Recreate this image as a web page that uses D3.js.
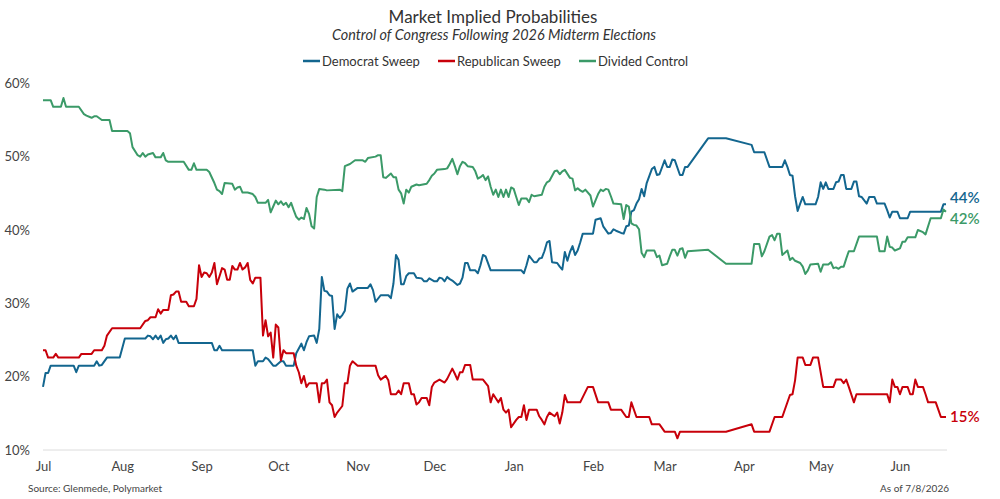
<!DOCTYPE html>
<html>
<head>
<meta charset="utf-8">
<script src="https://cdn.jsdelivr.net/npm/d3@7"></script>
<style>
  body { margin: 0; background: #fff; }
  text { font-family: Lato, "Open Sans", sans-serif; }
</style>
</head>
<body>
<svg id="chart"></svg>
<script>
var w = 1000;
var h = 499;

// month ticks + y ticks
var yTicks = [10, 20, 30, 40, 50, 60];
var seriesNames = ["Democrat Sweep", "Republican Sweep", "Divided Control"];
var endLabels = ["44%", "15%", "42%"];

var demSweep = [
  ["2025-07-01",18.6],["2025-07-02",20.5],["2025-07-03",20.5],["2025-07-04",21.5],["2025-07-13",21.5],["2025-07-14",20.6],
  ["2025-07-15",21.5],["2025-07-21",21.5],["2025-07-22",22.1],["2025-07-23",21.5],["2025-07-24",21.6],["2025-07-26",22.6],
  ["2025-07-31",22.6],["2025-08-02",25.2],["2025-08-10",25.2],["2025-08-11",25.6],["2025-08-12",25.5],["2025-08-13",25.1],
  ["2025-08-14",25.6],["2025-08-15",25.1],["2025-08-16",25.6],["2025-08-17",24.6],["2025-08-18",25.1],["2025-08-19",25.2],
  ["2025-08-20",25.6],["2025-08-21",25.1],["2025-08-22",25.6],["2025-08-23",24.6],["2025-09-05",24.6],["2025-09-06",23.6],
  ["2025-09-07",23.6],["2025-09-08",24.2],["2025-09-09",23.6],["2025-09-21",23.6],["2025-09-22",21.5],["2025-09-23",22.1],
  ["2025-09-25",22.1],["2025-09-26",22.6],["2025-09-27",22.4],["2025-09-29",21.5],["2025-09-30",21.5],["2025-10-02",22.1],
  ["2025-10-03",22.1],["2025-10-04",21.5],["2025-10-07",21.5],["2025-10-08",23.2],["2025-10-10",24.5],["2025-10-11",23.6],
  ["2025-10-12",24.7],["2025-10-13",25.5],["2025-10-15",25.6],["2025-10-16",24.6],["2025-10-17",26.5],["2025-10-18",33.6],
  ["2025-10-19",31.7],["2025-10-20",31.6],["2025-10-21",31.1],["2025-10-22",31.0],["2025-10-23",26.5],["2025-10-24",28.5],
  ["2025-10-25",28.0],["2025-10-26",28.4],["2025-10-27",29.0],["2025-10-28",32.0],["2025-10-29",32.7],["2025-10-30",31.6],
  ["2025-11-01",32.1],["2025-11-05",32.1],["2025-11-06",32.6],["2025-11-07",31.8],["2025-11-08",30.2],["2025-11-10",31.1],
  ["2025-11-13",31.1],["2025-11-14",30.7],["2025-11-15",32.7],["2025-11-16",36.6],["2025-11-17",35.9],["2025-11-18",32.6],
  ["2025-11-19",32.6],["2025-11-20",33.7],["2025-11-21",34.1],["2025-11-23",34.1],["2025-11-24",33.5],["2025-11-26",33.4],
  ["2025-11-27",33.0],["2025-11-28",33.0],["2025-11-29",33.4],["2025-12-01",33.0],["2025-12-02",33.0],["2025-12-03",33.5],
  ["2025-12-04",33.4],["2025-12-05",33.0],["2025-12-06",33.6],["2025-12-07",33.3],["2025-12-08",33.1],["2025-12-10",32.5],
  ["2025-12-11",32.7],["2025-12-12",33.5],["2025-12-13",35.5],["2025-12-14",35.5],["2025-12-15",34.5],["2025-12-17",34.5],
  ["2025-12-18",34.1],["2025-12-19",35.2],["2025-12-20",36.6],["2025-12-21",36.4],["2025-12-23",34.5],["2026-01-04",34.5],
  ["2026-01-05",34.1],["2026-01-06",35.2],["2026-01-07",36.5],["2026-01-09",35.6],["2026-01-10",35.6],["2026-01-11",36.1],
  ["2026-01-12",36.2],["2026-01-13",37.1],["2026-01-14",38.3],["2026-01-15",38.5],["2026-01-16",35.6],["2026-01-18",35.5],
  ["2026-01-19",35.0],["2026-01-20",34.6],["2026-01-21",37.0],["2026-01-22",35.8],["2026-01-23",37.0],["2026-01-24",37.8],
  ["2026-01-25",36.6],["2026-01-26",37.2],["2026-01-27",38.3],["2026-01-28",39.5],["2026-02-01",39.5],["2026-02-02",41.4],
  ["2026-02-04",41.6],["2026-02-05",40.5],["2026-02-07",39.5],["2026-02-08",39.6],["2026-02-09",40.1],["2026-02-10",39.9],
  ["2026-02-12",39.6],["2026-02-13",39.5],["2026-02-14",40.5],["2026-02-15",40.6],["2026-02-16",42.5],["2026-02-17",42.7],
  ["2026-02-18",43.6],["2026-02-19",44.2],["2026-02-20",45.6],["2026-02-21",44.6],["2026-02-22",46.4],["2026-02-24",48.3],
  ["2026-02-25",48.6],["2026-02-26",47.5],["2026-02-27",47.6],["2026-03-01",49.5],["2026-03-02",48.6],["2026-03-03",48.6],
  ["2026-03-04",49.6],["2026-03-05",49.5],["2026-03-07",47.5],["2026-03-08",47.5],["2026-03-09",48.6],["2026-03-10",48.6],
  ["2026-03-18",52.5],["2026-03-25",52.5],["2026-04-04",51.6],["2026-04-05",50.6],["2026-04-09",50.6],["2026-04-11",48.6],
  ["2026-04-16",48.6],["2026-04-17",49.5],["2026-04-18",48.6],["2026-04-19",47.5],["2026-04-20",47.4],["2026-04-21",44.6],
  ["2026-04-22",42.6],["2026-04-23",43.6],["2026-04-24",44.5],["2026-04-25",43.5],["2026-04-29",43.5],["2026-04-30",44.5],
  ["2026-05-01",46.5],["2026-05-02",45.6],["2026-05-03",46.5],["2026-05-04",45.6],["2026-05-06",45.6],["2026-05-07",46.5],
  ["2026-05-08",46.6],["2026-05-09",47.5],["2026-05-10",47.5],["2026-05-11",45.6],["2026-05-13",45.6],["2026-05-14",46.6],
  ["2026-05-15",46.6],["2026-05-16",44.6],["2026-05-17",44.5],["2026-05-19",43.6],["2026-05-20",44.5],["2026-05-22",44.5],
  ["2026-05-23",43.6],["2026-05-26",43.6],["2026-05-27",42.7],["2026-05-28",41.7],["2026-05-29",42.5],["2026-05-31",42.5],
  ["2026-06-01",41.6],["2026-06-04",41.6],["2026-06-05",42.5],["2026-06-17",42.5],["2026-06-18",43.5],["2026-06-19",43.5]
];

var repSweep = [
  ["2025-07-01",23.6],["2025-07-02",23.6],["2025-07-03",22.6],["2025-07-05",22.6],["2025-07-06",23.1],["2025-07-07",22.6],
  ["2025-07-15",22.6],["2025-07-16",23.1],["2025-07-20",23.1],["2025-07-21",23.6],["2025-07-24",23.6],["2025-07-25",24.2],
  ["2025-07-26",25.6],["2025-07-28",26.6],["2025-08-08",26.6],["2025-08-10",27.6],["2025-08-11",27.7],["2025-08-12",28.1],
  ["2025-08-14",28.1],["2025-08-15",29.2],["2025-08-16",28.6],["2025-08-17",29.1],["2025-08-19",29.1],["2025-08-20",31.1],
  ["2025-08-21",31.2],["2025-08-22",31.6],["2025-08-23",31.6],["2025-08-24",30.2],["2025-08-26",30.2],["2025-08-27",29.6],
  ["2025-08-29",29.6],["2025-08-30",30.6],["2025-08-31",35.2],["2025-09-01",33.6],["2025-09-02",34.2],["2025-09-03",34.1],
  ["2025-09-04",33.6],["2025-09-05",34.2],["2025-09-06",35.5],["2025-09-07",32.6],["2025-09-08",33.7],["2025-09-09",34.8],
  ["2025-09-10",34.6],["2025-09-11",33.2],["2025-09-12",33.2],["2025-09-13",35.1],["2025-09-14",34.6],["2025-09-15",34.6],
  ["2025-09-16",35.5],["2025-09-17",34.6],["2025-09-18",34.9],["2025-09-19",35.5],["2025-09-20",33.2],["2025-09-21",32.7],
  ["2025-09-22",33.5],["2025-09-24",33.5],["2025-09-25",25.6],["2025-09-26",27.7],["2025-09-27",25.5],["2025-09-28",26.0],
  ["2025-09-29",22.6],["2025-09-30",27.1],["2025-10-01",26.7],["2025-10-02",22.2],["2025-10-03",23.6],["2025-10-04",23.2],
  ["2025-10-07",23.2],["2025-10-08",21.5],["2025-10-09",20.6],["2025-10-10",19.1],["2025-10-11",20.1],["2025-10-12",18.6],
  ["2025-10-13",19.1],["2025-10-16",19.1],["2025-10-17",16.5],["2025-10-18",19.1],["2025-10-19",19.1],["2025-10-20",19.6],
  ["2025-10-21",16.5],["2025-10-22",16.1],["2025-10-23",14.5],["2025-10-24",15.1],["2025-10-26",16.0],["2025-10-27",19.1],
  ["2025-10-28",19.1],["2025-10-29",21.5],["2025-10-30",22.1],["2025-11-01",21.5],["2025-11-08",21.5],["2025-11-09",20.2],
  ["2025-11-10",19.6],["2025-11-12",20.1],["2025-11-13",19.5],["2025-11-14",17.6],["2025-11-16",17.6],["2025-11-17",18.1],
  ["2025-11-18",17.6],["2025-11-19",19.1],["2025-11-21",19.1],["2025-11-22",17.6],["2025-11-23",17.6],["2025-11-24",16.2],
  ["2025-11-25",16.5],["2025-11-26",17.1],["2025-11-28",17.1],["2025-11-29",16.1],["2025-11-30",18.6],["2025-12-01",19.2],
  ["2025-12-03",19.6],["2025-12-04",19.4],["2025-12-05",19.2],["2025-12-06",19.7],["2025-12-08",21.1],["2025-12-09",20.4],
  ["2025-12-10",19.6],["2025-12-11",20.6],["2025-12-12",20.6],["2025-12-13",21.6],["2025-12-15",21.6],["2025-12-16",19.6],
  ["2025-12-20",19.6],["2025-12-22",18.7],["2025-12-23",16.5],["2025-12-24",17.6],["2025-12-26",16.5],["2025-12-27",17.1],
  ["2025-12-28",15.5],["2025-12-29",15.1],["2025-12-30",15.5],["2025-12-31",13.1],["2026-01-02",14.1],["2026-01-03",14.5],
  ["2026-01-04",14.5],["2026-01-05",16.1],["2026-01-06",14.1],["2026-01-07",15.5],["2026-01-10",15.5],["2026-01-11",14.6],
  ["2026-01-12",14.1],["2026-01-13",13.5],["2026-01-14",14.5],["2026-01-15",15.1],["2026-01-17",14.6],["2026-01-18",15.1],
  ["2026-01-19",13.6],["2026-01-20",15.1],["2026-01-21",17.5],["2026-01-22",16.5],["2026-01-27",16.5],["2026-01-30",18.6],
  ["2026-02-01",18.6],["2026-02-03",16.5],["2026-02-07",16.5],["2026-02-08",15.5],["2026-02-12",15.5],["2026-02-14",14.5],
  ["2026-02-15",14.5],["2026-02-16",16.5],["2026-02-18",14.5],["2026-02-23",14.5],["2026-02-24",13.5],["2026-02-27",13.5],
  ["2026-03-01",12.5],["2026-03-05",12.5],["2026-03-06",11.6],["2026-03-07",12.5],["2026-03-25",12.5],["2026-04-04",13.5],
  ["2026-04-05",12.5],["2026-04-11",12.5],["2026-04-13",14.5],["2026-04-16",14.5],["2026-04-19",17.5],["2026-04-20",17.6],
  ["2026-04-21",19.5],["2026-04-22",22.6],["2026-04-24",22.6],["2026-04-25",21.6],["2026-04-27",21.6],["2026-04-28",22.6],
  ["2026-04-30",22.6],["2026-05-02",18.6],["2026-05-06",18.6],["2026-05-07",19.6],["2026-05-09",19.6],["2026-05-10",19.1],
  ["2026-05-11",19.6],["2026-05-12",18.6],["2026-05-14",16.5],["2026-05-15",17.6],["2026-05-27",17.6],["2026-05-28",16.5],
  ["2026-05-29",19.6],["2026-05-30",18.6],["2026-05-31",18.6],["2026-06-01",17.6],["2026-06-02",18.6],["2026-06-04",18.6],
  ["2026-06-05",17.6],["2026-06-06",17.6],["2026-06-07",19.6],["2026-06-08",18.6],["2026-06-10",18.6],["2026-06-11",17.6],
  ["2026-06-12",16.5],["2026-06-15",16.5],["2026-06-16",15.5],["2026-06-17",14.5],["2026-06-19",14.5]
];

var divided = [
  ["2025-07-01",57.7],["2025-07-04",57.7],["2025-07-05",56.8],["2025-07-08",56.8],["2025-07-09",58.0],["2025-07-10",56.8],
  ["2025-07-15",56.8],["2025-07-17",55.8],["2025-07-18",55.6],["2025-07-20",55.3],["2025-07-21",55.5],["2025-07-22",55.5],
  ["2025-07-24",55.0],["2025-07-27",55.0],["2025-07-28",53.5],["2025-08-03",53.5],["2025-08-04",53.2],["2025-08-05",51.3],
  ["2025-08-07",50.2],["2025-08-08",50.0],["2025-08-09",50.5],["2025-08-10",50.0],["2025-08-11",50.3],["2025-08-13",50.5],
  ["2025-08-14",49.9],["2025-08-16",49.9],["2025-08-17",50.5],["2025-08-18",49.5],["2025-08-19",49.3],["2025-08-25",49.3],
  ["2025-08-27",48.2],["2025-08-28",48.2],["2025-08-29",49.1],["2025-08-30",48.2],["2025-09-03",48.2],["2025-09-04",47.9],
  ["2025-09-06",46.4],["2025-09-07",45.5],["2025-09-08",45.3],["2025-09-09",44.9],["2025-09-10",46.4],["2025-09-13",46.3],
  ["2025-09-14",45.5],["2025-09-15",45.8],["2025-09-16",45.9],["2025-09-17",45.1],["2025-09-19",45.1],["2025-09-21",44.9],
  ["2025-09-22",44.5],["2025-09-23",43.7],["2025-09-26",43.7],["2025-09-27",44.1],["2025-09-28",42.4],["2025-09-29",43.2],
  ["2025-09-30",44.0],["2025-10-01",43.5],["2025-10-02",43.9],["2025-10-03",43.4],["2025-10-04",43.7],["2025-10-05",43.1],
  ["2025-10-06",43.7],["2025-10-07",42.7],["2025-10-08",41.8],["2025-10-09",41.4],["2025-10-10",41.7],["2025-10-11",41.5],
  ["2025-10-12",43.0],["2025-10-13",42.2],["2025-10-14",40.5],["2025-10-15",40.2],["2025-10-16",44.5],["2025-10-17",45.6],
  ["2025-10-19",45.5],["2025-10-20",45.4],["2025-10-25",45.5],["2025-10-26",45.3],["2025-10-27",48.7],["2025-10-29",49.0],
  ["2025-10-31",49.5],["2025-11-03",49.5],["2025-11-04",49.3],["2025-11-05",49.8],["2025-11-08",50.0],["2025-11-09",50.2],
  ["2025-11-10",50.2],["2025-11-11",47.2],["2025-11-12",47.1],["2025-11-14",47.7],["2025-11-15",47.2],["2025-11-16",47.2],
  ["2025-11-17",45.5],["2025-11-18",45.0],["2025-11-19",43.6],["2025-11-20",45.5],["2025-11-21",45.1],["2025-11-22",45.9],
  ["2025-11-24",46.2],["2025-11-25",46.1],["2025-11-28",46.3],["2025-11-29",46.8],["2025-11-30",47.4],["2025-12-01",47.7],
  ["2025-12-02",48.2],["2025-12-05",48.3],["2025-12-06",48.4],["2025-12-07",49.0],["2025-12-08",49.7],["2025-12-09",48.7],
  ["2025-12-10",47.6],["2025-12-11",48.7],["2025-12-12",49.3],["2025-12-13",49.1],["2025-12-14",48.7],["2025-12-16",48.6],
  ["2025-12-17",48.0],["2025-12-18",47.0],["2025-12-19",47.2],["2025-12-20",47.5],["2025-12-21",46.8],["2025-12-22",47.3],
  ["2025-12-23",45.9],["2025-12-24",44.8],["2025-12-25",45.5],["2025-12-26",44.5],["2025-12-27",45.5],["2025-12-28",44.5],
  ["2025-12-29",45.5],["2025-12-30",44.5],["2025-12-31",45.8],["2026-01-01",45.6],["2026-01-02",44.5],["2026-01-03",43.4],
  ["2026-01-04",44.3],["2026-01-06",44.3],["2026-01-07",43.8],["2026-01-08",44.8],["2026-01-09",44.6],["2026-01-12",44.8],
  ["2026-01-13",45.9],["2026-01-14",46.5],["2026-01-15",46.7],["2026-01-17",48.0],["2026-01-18",48.1],["2026-01-19",47.6],
  ["2026-01-20",48.0],["2026-01-21",48.2],["2026-01-23",47.1],["2026-01-24",47.0],["2026-01-25",45.4],["2026-01-26",45.7],
  ["2026-01-27",45.4],["2026-01-28",45.2],["2026-01-29",45.5],["2026-01-31",44.7],["2026-02-01",43.2],["2026-02-03",44.9],
  ["2026-02-04",45.5],["2026-02-05",45.3],["2026-02-06",45.6],["2026-02-07",45.5],["2026-02-08",44.6],["2026-02-09",43.6],
  ["2026-02-12",43.5],["2026-02-13",41.5],["2026-02-14",43.4],["2026-02-15",43.2],["2026-02-16",40.9],["2026-02-17",40.7],
  ["2026-02-18",40.6],["2026-02-19",40.1],["2026-02-20",36.9],["2026-02-21",36.3],["2026-02-22",37.2],["2026-02-25",37.2],
  ["2026-02-26",36.3],["2026-02-27",36.5],["2026-02-28",35.2],["2026-03-02",35.4],["2026-03-03",36.4],["2026-03-04",37.3],
  ["2026-03-05",37.3],["2026-03-06",36.5],["2026-03-07",37.4],["2026-03-08",37.5],["2026-03-09",36.2],["2026-03-10",37.1],
  ["2026-03-18",37.3],["2026-03-25",35.4],["2026-04-04",35.4],["2026-04-05",38.1],["2026-04-07",38.1],["2026-04-08",36.4],
  ["2026-04-09",37.1],["2026-04-11",39.1],["2026-04-12",39.3],["2026-04-13",38.6],["2026-04-14",39.5],["2026-04-15",39.5],
  ["2026-04-16",36.6],["2026-04-17",36.9],["2026-04-18",37.2],["2026-04-19",35.9],["2026-04-20",36.2],["2026-04-21",35.8],
  ["2026-04-23",35.5],["2026-04-24",35.0],["2026-04-25",34.0],["2026-04-26",34.5],["2026-04-27",35.3],["2026-04-30",35.4],
  ["2026-05-01",34.3],["2026-05-02",35.3],["2026-05-04",35.3],["2026-05-05",35.6],["2026-05-06",34.8],["2026-05-07",34.9],
  ["2026-05-08",34.7],["2026-05-09",35.0],["2026-05-10",35.0],["2026-05-11",36.1],["2026-05-12",37.1],["2026-05-14",37.1],
  ["2026-05-16",39.1],["2026-05-23",39.1],["2026-05-24",37.1],["2026-05-26",37.1],["2026-05-27",39.1],["2026-05-28",37.7],
  ["2026-05-29",37.6],["2026-05-30",37.2],["2026-06-01",37.5],["2026-06-02",38.4],["2026-06-03",38.4],["2026-06-04",39.0],
  ["2026-06-07",39.0],["2026-06-08",40.0],["2026-06-10",39.7],["2026-06-11",39.4],["2026-06-13",41.6],["2026-06-17",41.6],
  ["2026-06-18",42.8],["2026-06-19",42.5]
];

var colors = ["#13668f", "#c8000a", "#3b9a68"];
var parse = d3.timeParse("%Y-%m-%d");

var svg = d3.select("#chart")
  .attr("width", w)
  .attr("height", h)

var x = d3.scaleTime()
  .domain([parse("2025-07-01"), parse("2026-06-19")])
  .range([43, 946])

var y = d3.scaleLinear()
  .domain([10, 60])
  .range([450, 83.3])

// titles
svg.append("text")
  .attr("x", 493).attr("y", 23)
  .attr("text-anchor", "middle")
  .attr("font-size", 17)
  .attr("fill", "#333")
  .text("Market Implied Probabilities")

svg.append("text")
  .attr("x", 494).attr("y", 40)
  .attr("text-anchor", "middle")
  .attr("font-size", 14.4)
  .attr("font-style", "italic")
  .attr("fill", "#333")
  .text("Control of Congress Following 2026 Midterm Elections")

// legend
var legendX = [303, 438, 579];
var legend = svg.selectAll(".legend")
  .data(seriesNames)
  .enter()
  .append("g")
  .attr("class", "legend")
  .attr("transform", function(d, i) { return "translate(" + legendX[i] + ",61)" })

legend.append("line")
  .attr("x1", 0).attr("x2", 17)
  .attr("stroke", function(d, i) { return colors[i] })
  .attr("stroke-width", 2.5)

legend.append("text")
  .attr("x", 19).attr("y", 4.5)
  .attr("font-size", 13)
  .attr("fill", "#333")
  .text(function(d) { return d })

// y axis labels, no line
var yAxis = svg.append("g")
  .attr("transform", "translate(30,0)")
  .call(d3.axisLeft(y).tickValues(yTicks).tickSize(0).tickFormat(function(d) { return d + "%" }))
yAxis.select(".domain").remove()
yAxis.selectAll("text")
  .attr("font-family", "Lato, sans-serif")
  .attr("font-size", 13)
  .attr("fill", "#444")
  .attr("x", 0)

// baseline
svg.append("line")
  .attr("x1", 43).attr("x2", 947)
  .attr("y1", y(10)).attr("y2", y(10))
  .attr("stroke", "#dcdcdc")
  .attr("stroke-width", 1)

var xAxis = svg.append("g")
  .attr("transform", "translate(0," + y(10) + ")")
  .call(d3.axisBottom(x).ticks(d3.timeMonth.every(1)).tickSize(0).tickFormat(d3.timeFormat("%b")))
xAxis.select(".domain").remove()
xAxis.selectAll("text")
  .attr("font-family", "Lato, sans-serif")
  .attr("font-size", 13)
  .attr("fill", "#444")
  .attr("dy", "1.35em")

var line = d3.line()
  .x(function(d) { return x(parse(d[0])) })
  .y(function(d) { return y(d[1]) })

var allSeries = [demSweep, repSweep, divided];

svg.selectAll(".series")
  .data(allSeries)
  .enter()
  .append("path")
  .attr("class", "series")
  .attr("d", line)
  .attr("fill", "none")
  .attr("stroke", function(d, i) { return colors[i] })
  .attr("stroke-width", 2)
  .attr("stroke-linejoin", "round")

// end value labels, nudged apart
var nudge = [-7, 0, 7];
svg.selectAll(".endlabel")
  .data(allSeries)
  .enter()
  .append("text")
  .attr("class", "endlabel")
  .attr("x", 950)
  .attr("y", function(d, i) { return y(d[d.length - 1][1]) + nudge[i] })
  .attr("dy", "0.35em")
  .attr("font-size", 15)
  .attr("font-weight", 600)
  .attr("fill", function(d, i) { return colors[i] })
  .text(function(d, i) { return endLabels[i] })

// footer
svg.append("text")
  .attr("x", 28).attr("y", 492)
  .attr("font-size", 10)
  .attr("fill", "#444")
  .text("Source: Glenmede, Polymarket")

svg.append("text")
  .attr("x", 949).attr("y", 492)
  .attr("text-anchor", "end")
  .attr("font-size", 10)
  .attr("fill", "#444")
  .text("As of 7/8/2026")
</script>
</body>
</html>
